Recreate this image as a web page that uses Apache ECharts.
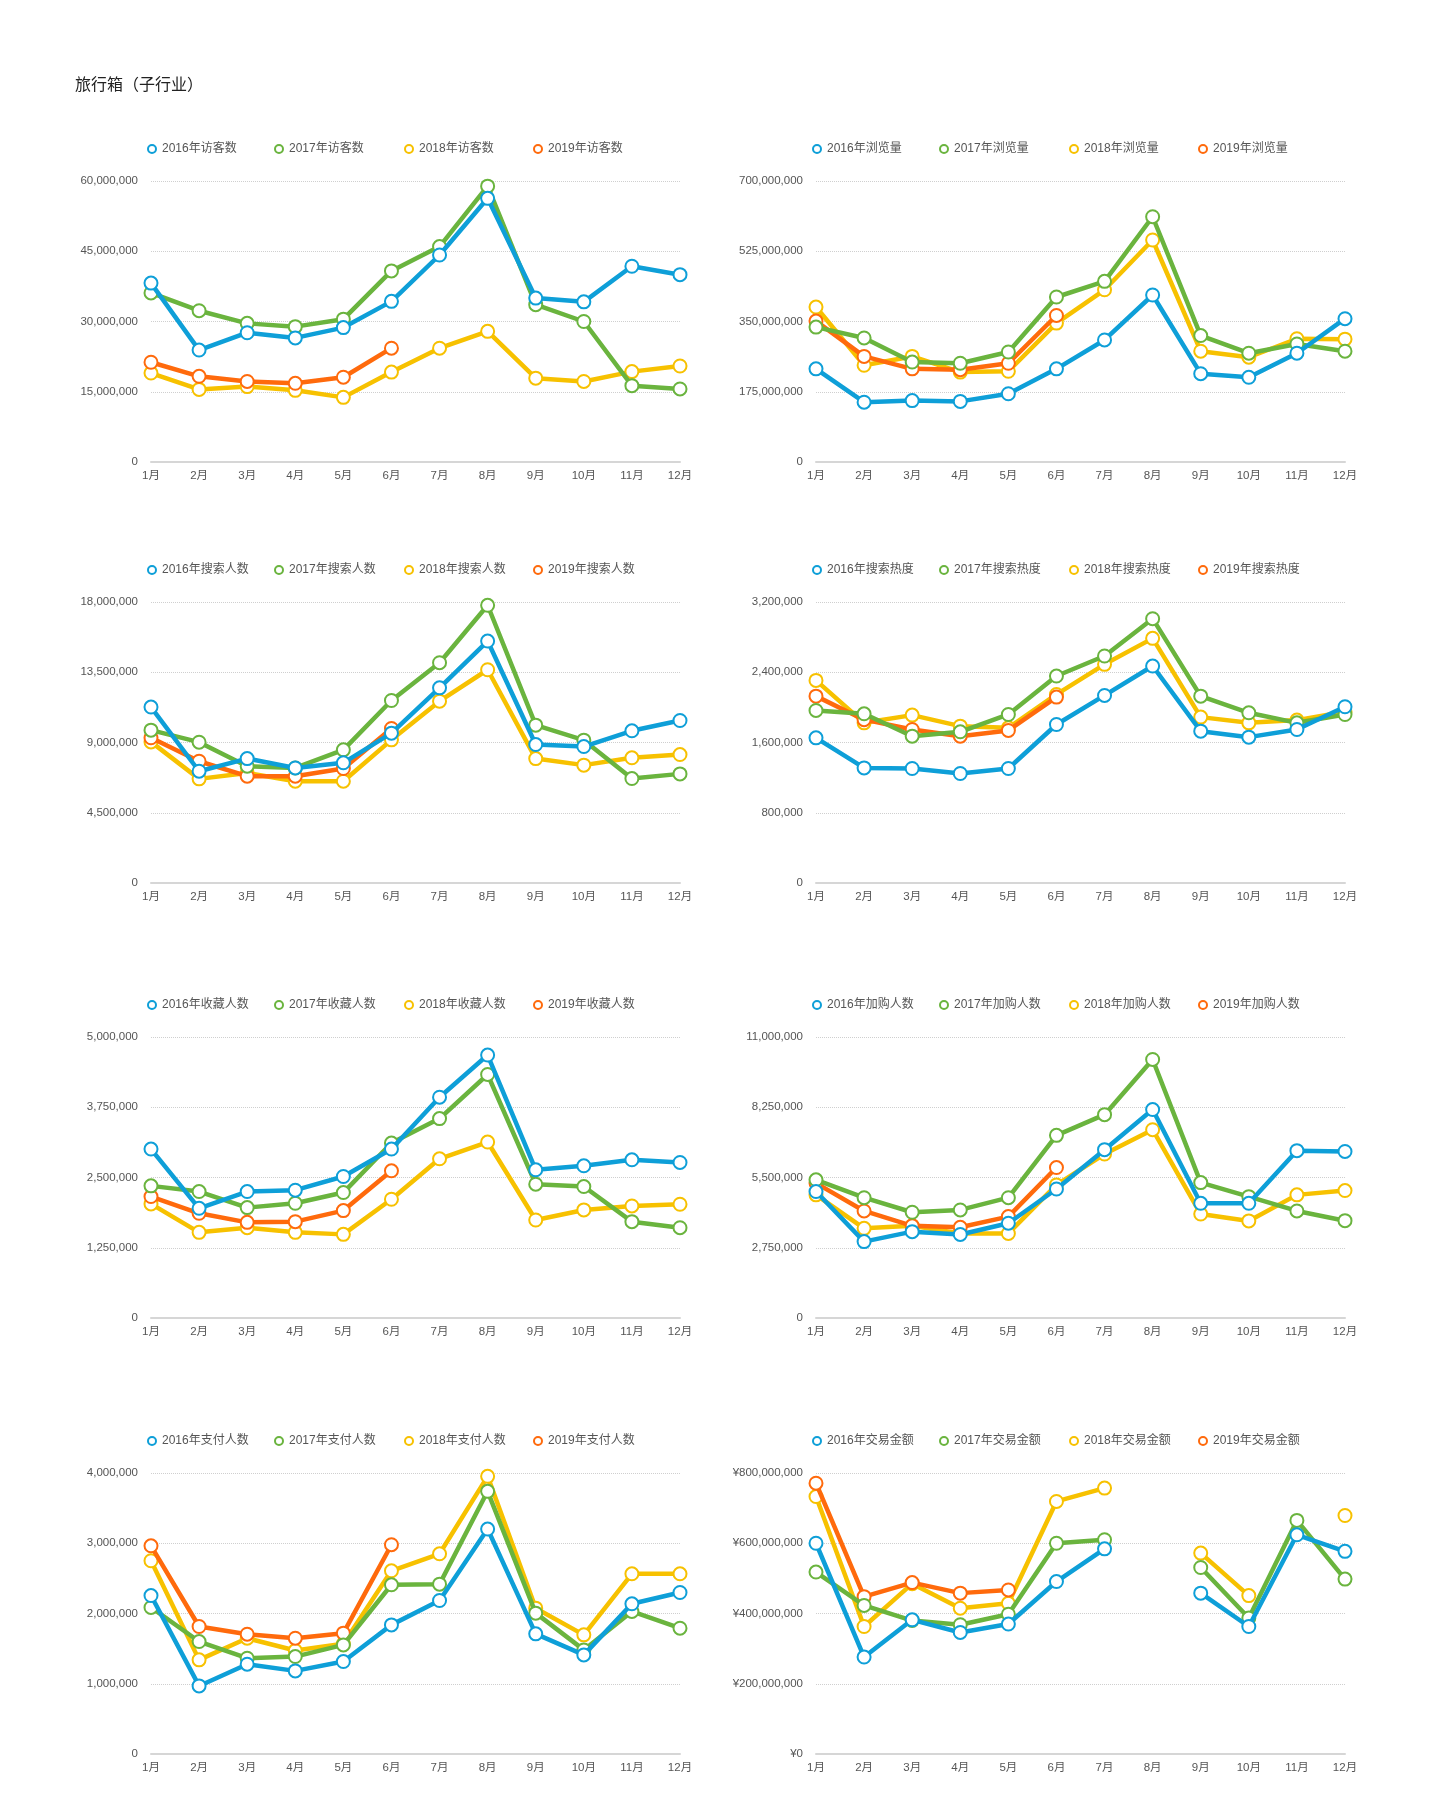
<!DOCTYPE html>
<html>
<head>
<meta charset="utf-8">
<script src="https://cdn.jsdelivr.net/npm/echarts@6/dist/echarts.min.js"></script>
<style>
html,body{margin:0;padding:0;background:#fff;}
#main{width:1440px;height:1815px;}
</style>
</head>
<body>
<div id="main"></div>
<script>
// ---- data ----
const months = ['1月','2月','3月','4月','5月','6月','7月','8月','9月','10月','11月','12月'];
const years = ['2016年','2017年','2018年','2019年'];
const metrics = ['访客数','浏览量','搜索人数','搜索热度','收藏人数','加购人数','支付人数','交易金额'];
const axisMax = [60000000, 700000000, 18000000, 3200000, 5000000, 11000000, 4000000, 800000000];

// 访客数
const visitors2016 = [38200000,23900000,27600000,26500000,28700000,34300000,44200000,56300000,35000000,34200000,41800000,40000000];
const visitors2017 = [36100000,32300000,29600000,28900000,30500000,40800000,46000000,58900000,33600000,30000000,16300000,15600000];
const visitors2018 = [19000000,15500000,16100000,15300000,13800000,19200000,24300000,27900000,17900000,17200000,19300000,20500000];
const visitors2019 = [21300000,18300000,17200000,16800000,18100000,24300000,null,null,null,null,null,null];
// 浏览量
const views2016 = [232000000,149000000,153000000,151000000,170000000,232000000,304000000,416000000,220000000,211000000,271000000,357000000];
const views2017 = [336000000,309000000,249000000,246000000,274000000,411000000,450000000,611000000,315000000,271000000,294000000,276000000];
const views2018 = [386000000,241000000,263000000,224000000,226000000,346000000,429000000,553000000,276000000,261000000,307000000,306000000];
const views2019 = [351000000,263000000,232000000,230000000,246000000,365000000,null,null,null,null,null,null];
// 搜索人数
const searchers2016 = [11270000,7160000,7970000,7370000,7700000,9600000,12500000,15500000,8870000,8740000,9750000,10410000];
const searchers2017 = [9790000,9020000,7480000,7370000,8530000,11690000,14110000,17790000,10110000,9150000,6690000,6990000];
const searchers2018 = [9040000,6670000,7050000,6520000,6520000,9170000,11650000,13660000,7970000,7550000,8020000,8230000];
const searchers2019 = [9300000,7800000,6840000,6840000,7330000,9900000,null,null,null,null,null,null];
// 搜索热度
const heat2016 = [1653000,1311000,1304000,1247000,1304000,1805000,2136000,2471000,1729000,1661000,1748000,2007000];
const heat2017 = [1965000,1927000,1672000,1722000,1919000,2357000,2585000,3010000,2128000,1938000,1824000,1919000];
const heat2018 = [2307000,1824000,1912000,1786000,1767000,2147000,2490000,2786000,1889000,1824000,1855000,1950000];
const heat2019 = [2128000,1860000,1748000,1672000,1737000,2117000,null,null,null,null,null,null];
// 收藏人数
const favs2016 = [3006000,1952000,2250000,2274000,2518000,3006000,3929000,4679000,2637000,2708000,2815000,2768000];
const favs2017 = [2351000,2250000,1964000,2042000,2232000,3113000,3548000,4333000,2381000,2339000,1714000,1607000];
const favs2018 = [2030000,1524000,1607000,1524000,1488000,2113000,2833000,3131000,1744000,1923000,1994000,2024000];
const favs2019 = [2161000,1863000,1702000,1714000,1911000,2619000,null,null,null,null,null,null];
// 加购人数
const carts2016 = [4950000,2990000,3380000,3270000,3710000,5050000,6590000,8160000,4490000,4490000,6550000,6520000];
const carts2017 = [5410000,4710000,4140000,4230000,4710000,7150000,7960000,10120000,5300000,4750000,4190000,3810000];
const carts2018 = [4820000,3510000,3610000,3310000,3310000,5210000,6420000,7370000,4070000,3800000,4820000,4990000];
const carts2019 = [5280000,4190000,3610000,3550000,3970000,5890000,null,null,null,null,null,null];
// 支付人数
const payers2016 = [2256000,969000,1278000,1183000,1316000,1838000,2185000,3202000,1710000,1411000,2138000,2299000];
const payers2017 = [2086000,1601000,1363000,1387000,1553000,2409000,2418000,3739000,2005000,1482000,2029000,1791000];
const payers2018 = [2751000,1340000,1648000,1473000,1568000,2608000,2850000,3952000,2076000,1696000,2565000,2565000];
const payers2019 = [2964000,1815000,1705000,1648000,1720000,2979000,null,null,null,null,null,null];
// 交易金额
const sales2016 = [600000000,276000000,382000000,346000000,370000000,491000000,584000000,null,458000000,363000000,624000000,577000000];
const sales2017 = [518000000,423000000,380000000,368000000,398000000,600000000,610000000,null,531000000,387000000,665000000,498000000];
const sales2018 = [733000000,363000000,485000000,415000000,429000000,719000000,757000000,null,572000000,451000000,null,679000000];
const sales2019 = [771000000,448000000,488000000,458000000,467000000,null,null,null,null,null,null,null];

const chartData = [
  [visitors2016, visitors2017, visitors2018, visitors2019],
  [views2016, views2017, views2018, views2019],
  [searchers2016, searchers2017, searchers2018, searchers2019],
  [heat2016, heat2017, heat2018, heat2019],
  [favs2016, favs2017, favs2018, favs2019],
  [carts2016, carts2017, carts2018, carts2019],
  [payers2016, payers2017, payers2018, payers2019],
  [sales2016, sales2017, sales2018, sales2019]
];

// ---- layout / style ----
const colors = ['#0E9FD8', '#6AB43E', '#F7C100', '#FF6A0C'];
const zOrder = [5, 4, 2, 3];
const rowTops = [181, 602, 1037, 1473];
const colLefts = [151, 816];
const gridW = 529, gridH = 281;
const legendTopOffset = -43;
// legend icon centre offsets from grid left edge
const legendOffsetsShort = [5, 131, 256, 383];
const legendOffsetsLong = [-5, 122, 252, 381];
const FONT = '"Liberation Sans", Arial, "Noto Sans CJK SC", sans-serif';

function fmt(v) { return String(v).replace(/\B(?=(\d{3})+(?!\d))/g, ','); }

const grids = [], xAxes = [], yAxes = [], series = [], legends = [];
metrics.forEach((m, i) => {
  const row = Math.floor(i / 2), col = i % 2;
  const top = rowTops[row], left = colLefts[col];
  grids.push({ left: left, top: top, width: gridW, height: gridH, containLabel: false });
  xAxes.push({
    type: 'category', gridIndex: i, data: months, boundaryGap: false,
    axisLine: { show: true, lineStyle: { color: '#d6d6d6', width: 2 } },
    axisTick: { show: false },
    axisLabel: { color: '#555', fontSize: 11.5, margin: 8, fontFamily: FONT }
  });
  const isMoney = (i === 7);
  yAxes.push({
    type: 'value', gridIndex: i, min: 0, max: axisMax[i], interval: axisMax[i] / 4,
    axisLine: { show: false }, axisTick: { show: false },
    splitLine: { show: true, lineStyle: { color: '#cfcfcf', type: [1, 1], width: 1 } },
    axisLabel: { color: '#555', fontSize: 11.5, margin: 13, fontFamily: FONT,
      formatter: v => (isMoney ? '¥' : '') + fmt(v) }
  });
  const names = years.map(y => y + m);
  const offs = names[0].length >= 7 ? legendOffsetsLong : legendOffsetsShort;
  names.forEach((n, k) => {
    legends.push({
      data: [n], top: top + legendTopOffset, left: left + offs[k] - 4,
      orient: 'horizontal', icon: 'emptyCircle', itemWidth: 8, itemHeight: 8,
      itemStyle: { borderWidth: 2.5 },
      textStyle: { color: '#555', fontSize: 12, fontFamily: FONT, padding: [0, 0, 0, 1] }
    });
    series.push({
      name: n, type: 'line', xAxisIndex: i, yAxisIndex: i,
      data: chartData[i][k], connectNulls: false,
      symbol: 'emptyCircle', symbolSize: 13, showSymbol: true,
      color: colors[k], z: zOrder[k],
      lineStyle: { width: 4.5, color: colors[k] },
      itemStyle: { color: colors[k], borderWidth: 4, borderColor: colors[k] },
      emphasis: { disabled: true },
      animation: false
    });
  });
});

const chart = echarts.init(document.getElementById('main'), null, { renderer: 'canvas' });
chart.setOption({
  backgroundColor: '#fff',
  animation: false,
  textStyle: { fontFamily: FONT },
  title: { text: '旅行箱（子行业）', left: 70, top: 71,
    textStyle: { fontSize: 16, fontWeight: 'normal', color: '#222', fontFamily: '"Noto Sans CJK SC", sans-serif' } },
  legend: legends,
  grid: grids,
  xAxis: xAxes,
  yAxis: yAxes,
  series: series
});
</script>
</body>
</html>
